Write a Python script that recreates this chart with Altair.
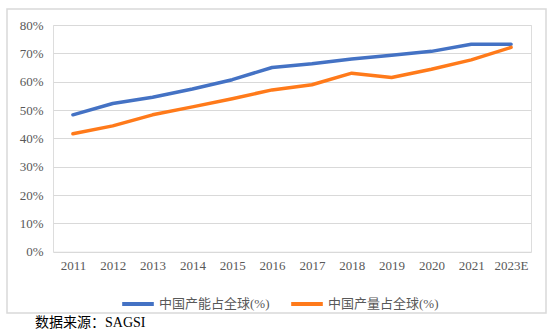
import altair as alt
import pandas as pd

years = ["2011", "2012", "2013", "2014", "2015", "2016", "2017", "2018", "2019", "2020", "2021", "2023E"]
capacity_share = [48.3, 52.3, 54.5, 57.4, 60.7, 65.0, 66.3, 68.0, 69.3, 70.7, 73.2, 73.2]
output_share = [41.6, 44.4, 48.3, 51.1, 54.0, 57.1, 58.9, 63.0, 61.5, 64.4, 67.7, 72.1]
series_names = ["中国产能占全球(%)", "中国产量占全球(%)"]
series_colors = ["#4472C4", "#FF7A1A"]
source_note = "数据来源：SAGSI"

rows = []
for y, c, o in zip(years, capacity_share, output_share):
    rows.append({"year": y, "series": series_names[0], "value": c / 100})
    rows.append({"year": y, "series": series_names[1], "value": o / 100})
df = pd.DataFrame(rows)

FONT = "Liberation Serif, Times New Roman, Noto Sans CJK SC"

border = alt.Chart(pd.DataFrame({"a": [0]})).mark_rect(
    fill="transparent", stroke="#d9d9d9", strokeWidth=1.5
).encode(
    x=alt.value(-46), x2=alt.value(493), y=alt.value(-16), y2=alt.value(288)
)

note = alt.Chart(pd.DataFrame({"t": [source_note]})).mark_text(
    align="left", baseline="middle", fontSize=14, font=FONT, color="#000000"
).encode(text="t:N", x=alt.value(-18), y=alt.value(298))

lines = alt.Chart(df).mark_line(strokeWidth=3.5, strokeCap="round", strokeJoin="round").encode(
    x=alt.X("year:N", sort=years, title=None,
            scale=alt.Scale(paddingInner=1, paddingOuter=0.5),
            axis=alt.Axis(labelAngle=0, ticks=False, domain=False, grid=False,
                          labelPadding=8, labelFontSize=13, labelColor="#595959",
                          labelFont=FONT)),
    y=alt.Y("value:Q", title=None,
            scale=alt.Scale(domain=[0, 0.8], nice=False),
            axis=alt.Axis(format=".0%", values=[i / 10 for i in range(9)],
                          ticks=False, domain=False, grid=True, gridColor="#d9d9d9",
                          gridWidth=1.2, labelPadding=10, labelFontSize=13,
                          labelColor="#595959", labelFont=FONT)),
    color=alt.Color("series:N", sort=series_names,
                    scale=alt.Scale(domain=series_names, range=series_colors),
                    legend=alt.Legend(title=None, orient="none", direction="horizontal",
                                      legendX=67, legendY=261, symbolType="stroke",
                                      symbolSize=1000, symbolStrokeWidth=4,
                                      labelFont=FONT, labelFontSize=13,
                                      labelColor="#595959", labelOffset=3,
                                      columnPadding=13, labelLimit=200)),
)

chart = alt.layer(border, note, lines).properties(
    width=478, height=226.7,
    padding={"left": 53, "top": 25, "right": 25, "bottom": 84.3},
    autosize=alt.AutoSizeParams(type="none"),
).configure_view(stroke=None).configure(background="white")

chart.save("out.html", embed_options={"renderer": "svg", "actions": False})
